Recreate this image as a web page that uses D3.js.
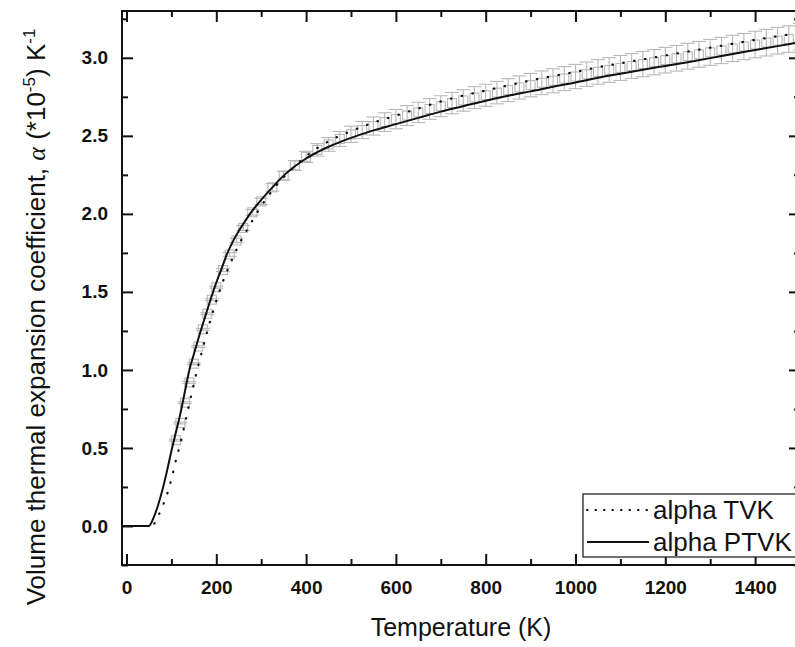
<!DOCTYPE html>
<html>
<head>
<meta charset="utf-8">
<script src="https://cdn.jsdelivr.net/npm/d3@7"></script>
<style>
  body { margin: 0; background: #fff; }
  svg { display: block; font-family: "Liberation Sans", Arial, sans-serif; }
</style>
</head>
<body>
<div id="root"></div>
<script>
// alpha PTVK (solid line)
const ptvkTemp = [-10, 0, 25, 50, 60, 70, 80, 90, 100, 110, 120, 130, 140, 150, 160, 175, 186, 200, 208, 225, 234, 250, 260, 275, 300, 325, 350, 375, 400, 425, 450, 475, 500, 550, 600, 650, 700, 750, 800, 850, 900, 950, 1000, 1050, 1100, 1150, 1200, 1250, 1300, 1350, 1400, 1450, 1500];
const ptvkAlpha = [0, 0, 0, 0, 0.05, 0.13, 0.23, 0.35, 0.48, 0.6, 0.72, 0.86, 1.0, 1.1, 1.2, 1.34, 1.44, 1.56, 1.62, 1.75, 1.806, 1.89, 1.935, 2.0, 2.09, 2.17, 2.245, 2.305, 2.355, 2.395, 2.43, 2.46, 2.487, 2.535, 2.575, 2.615, 2.655, 2.69, 2.725, 2.757, 2.785, 2.815, 2.842, 2.872, 2.898, 2.924, 2.948, 2.972, 2.998, 3.025, 3.05, 3.075, 3.1];

// alpha TVK (dotted line)
const tvkTemp = [-10, 0, 25, 50, 60, 70, 80, 90, 100, 110, 120, 130, 140, 150, 160, 170, 180, 195, 210, 225, 250, 275, 300, 325, 350, 375, 400, 450, 500, 550, 600, 650, 700, 750, 800, 850, 900, 950, 1000, 1050, 1100, 1150, 1200, 1250, 1300, 1350, 1400, 1450, 1500];
const tvkAlpha = [0, 0, 0, 0, 0.01, 0.06, 0.125, 0.2, 0.3, 0.42, 0.53, 0.655, 0.785, 0.91, 1.03, 1.14, 1.25, 1.395, 1.53, 1.64, 1.8, 1.93, 2.05, 2.15, 2.235, 2.305, 2.37, 2.465, 2.53, 2.585, 2.63, 2.675, 2.72, 2.758, 2.79, 2.823, 2.855, 2.883, 2.91, 2.94, 2.965, 2.99, 3.015, 3.04, 3.065, 3.09, 3.115, 3.138, 3.16];

// grey markers with error bars
const markTemp = [110, 120, 130, 140, 150, 160, 170, 180, 190, 200, 215, 230, 245, 260, 280, 300, 325, 350, 375, 400, 425, 450, 475, 500, 525, 550, 575, 600, 625, 650, 675, 700, 725, 750, 775, 800, 825, 850, 875, 900, 925, 950, 975, 1000, 1025, 1050, 1075, 1100, 1125, 1150, 1175, 1200, 1225, 1250, 1275, 1300, 1325, 1350, 1375, 1400, 1425, 1450, 1475, 1500];
const markAlpha = [0.55, 0.66, 0.79, 0.92, 1.04, 1.15, 1.26, 1.36, 1.45, 1.53, 1.64, 1.74, 1.83, 1.91, 2.01, 2.08, 2.17, 2.245, 2.31, 2.365, 2.41, 2.445, 2.48, 2.51, 2.537, 2.563, 2.588, 2.607, 2.63, 2.65, 2.672, 2.69, 2.71, 2.727, 2.745, 2.76, 2.777, 2.793, 2.81, 2.825, 2.84, 2.853, 2.867, 2.88, 2.895, 2.91, 2.922, 2.935, 2.947, 2.96, 2.972, 2.985, 2.997, 3.01, 3.022, 3.035, 3.047, 3.06, 3.072, 3.085, 3.097, 3.11, 3.12, 3.135];
const markErr = [0.006, 0.006, 0.006, 0.006, 0.006, 0.006, 0.006, 0.006, 0.006, 0.006, 0.01, 0.012, 0.014, 0.016, 0.018, 0.02, 0.024, 0.028, 0.032, 0.036, 0.04, 0.044, 0.048, 0.052, 0.055, 0.058, 0.06, 0.062, 0.064, 0.065, 0.066, 0.067, 0.068, 0.069, 0.07, 0.071, 0.072, 0.073, 0.074, 0.075, 0.076, 0.077, 0.077, 0.078, 0.078, 0.079, 0.079, 0.08, 0.08, 0.081, 0.081, 0.082, 0.082, 0.083, 0.083, 0.083, 0.084, 0.084, 0.084, 0.085, 0.085, 0.085, 0.085, 0.085];

const xMajor = [0, 200, 400, 600, 800, 1000, 1200, 1400];
const yMajor = [0.0, 0.5, 1.0, 1.5, 2.0, 2.5, 3.0];

const width = 795;
const height = 647;
const margin = { top: 11, right: -5, bottom: 82, left: 122 };
const innerWidth = width - margin.left - margin.right;
const innerHeight = height - margin.top - margin.bottom;

const svg = d3
  .select("#root")
  .append("svg")
  .attr("width", width)
  .attr("height", height)
  .attr("viewBox", `0 0 ${width} ${height}`);

svg.append("rect").attr("width", width).attr("height", height).attr("fill", "#fff");

const inner = svg
  .append("g")
  .attr("transform", `translate(${margin.left}, ${margin.top})`);

const xScale = d3.scaleLinear().domain([-10, 1500]).range([0, innerWidth]);
const yScale = d3.scaleLinear().domain([-0.25, 3.3]).range([innerHeight, 0]);

svg
  .append("defs")
  .append("clipPath")
  .attr("id", "plot-clip")
  .append("rect")
  .attr("width", innerWidth)
  .attr("height", innerHeight);

const plot = inner.append("g").attr("clip-path", "url(#plot-clip)");

// grey markers
const marks = markTemp.map((t, i) => ({ t, a: markAlpha[i], e: markErr[i] }));
const grey = "#b8b8b8";
const mg = plot
  .selectAll("g.mark")
  .data(marks)
  .join("g")
  .attr("class", "mark")
  .attr("transform", (d) => `translate(${xScale(d.t)}, ${yScale(d.a)})`)
  .attr("stroke", grey)
  .attr("stroke-width", 1.1)
  .attr("fill", "none");
mg.append("line")
  .attr("y1", (d) => yScale(d.a + d.e) - yScale(d.a))
  .attr("y2", (d) => yScale(d.a - d.e) - yScale(d.a));
mg.append("line")
  .attr("x1", -7).attr("x2", 7)
  .attr("y1", (d) => yScale(d.a + d.e) - yScale(d.a))
  .attr("y2", (d) => yScale(d.a + d.e) - yScale(d.a));
mg.append("line")
  .attr("x1", -7).attr("x2", 7)
  .attr("y1", (d) => yScale(d.a - d.e) - yScale(d.a))
  .attr("y2", (d) => yScale(d.a - d.e) - yScale(d.a));
mg.append("rect").attr("x", -4.5).attr("y", -4.5).attr("width", 9).attr("height", 9);

const line = d3
  .line()
  .x((d) => xScale(d[0]))
  .y((d) => yScale(d[1]))
  .curve(d3.curveMonotoneX);

plot
  .append("path")
  .datum(tvkTemp.map((t, i) => [t, tvkAlpha[i]]))
  .attr("d", line)
  .attr("fill", "none")
  .attr("stroke", "#111")
  .attr("stroke-width", 2.2)
  .attr("stroke-linecap", "round")
  .attr("stroke-dasharray", "0.5,10.5");

plot
  .append("path")
  .datum(ptvkTemp.map((t, i) => [t, ptvkAlpha[i]]))
  .attr("d", line)
  .attr("fill", "none")
  .attr("stroke", "#111")
  .attr("stroke-width", 2);

// axes, ticks pointing inward on all four sides
const xMinor = d3.range(0, 1501, 100).filter((v) => !xMajor.includes(v));
const yMinor = d3.range(-0.25, 3.3, 0.25).filter((v) => !yMajor.some((m) => Math.abs(m - v) < 1e-6));

function drawAxis(axis, transform, keepText) {
  const g = inner.append("g").attr("transform", transform).call(axis);
  g.select(".domain").remove();
  g.selectAll("line").attr("stroke", "#111").attr("stroke-width", 2);
  if (!keepText) g.selectAll("text").remove();
  return g;
}

const bottom = drawAxis(
  d3.axisBottom(xScale).tickValues(xMajor).tickSize(-11).tickPadding(16).tickFormat(d3.format("d")),
  `translate(0, ${innerHeight})`,
  true
);
drawAxis(d3.axisBottom(xScale).tickValues(xMinor).tickSize(-6), `translate(0, ${innerHeight})`);
drawAxis(d3.axisTop(xScale).tickValues(xMajor).tickSize(-11), "translate(0, 0)");
drawAxis(d3.axisTop(xScale).tickValues(xMinor).tickSize(-6), "translate(0, 0)");

const left = drawAxis(
  d3.axisLeft(yScale).tickValues(yMajor).tickSize(-11).tickPadding(14).tickFormat(d3.format(".1f")),
  "translate(0, 0)",
  true
);
drawAxis(d3.axisLeft(yScale).tickValues(yMinor).tickSize(-6), "translate(0, 0)");
drawAxis(d3.axisRight(yScale).tickValues(yMajor).tickSize(-11), `translate(${innerWidth}, 0)`);
drawAxis(d3.axisRight(yScale).tickValues(yMinor).tickSize(-6), `translate(${innerWidth}, 0)`);

[bottom, left].forEach((g) =>
  g.selectAll("text")
    .attr("fill", "#111")
    .attr("font-size", 19)
    .attr("font-weight", "bold")
    .attr("font-family", "Liberation Sans, Arial, sans-serif")
);

// frame
inner
  .append("rect")
  .attr("width", innerWidth)
  .attr("height", innerHeight)
  .attr("fill", "none")
  .attr("stroke", "#111")
  .attr("stroke-width", 2);

// axis titles
svg
  .append("text")
  .attr("x", margin.left + innerWidth / 2)
  .attr("y", 636)
  .attr("text-anchor", "middle")
  .attr("font-size", 25)
  .attr("fill", "#111")
  .text("Temperature (K)");

const yTitle = svg
  .append("text")
  .attr("transform", "translate(45, 317) rotate(-90)")
  .attr("text-anchor", "middle")
  .attr("font-size", 26)
  .attr("fill", "#111");
yTitle.append("tspan").text("Volume thermal expansion coefficient, ");
yTitle.append("tspan").attr("font-family", "Liberation Serif, serif").attr("font-style", "italic").text("α");
yTitle.append("tspan").text(" (*10");
yTitle.append("tspan").attr("font-size", 17).attr("dy", -10).text("-5");
yTitle.append("tspan").attr("dy", 10).text(") K");
yTitle.append("tspan").attr("font-size", 17).attr("dy", -10).text("-1");

// legend
const legend = svg.append("g").attr("transform", "translate(583, 494)");
legend
  .append("rect")
  .attr("width", 230)
  .attr("height", 63)
  .attr("fill", "#fff")
  .attr("stroke", "#111")
  .attr("stroke-width", 1.2);

const legendItems = [
  { label: "alpha TVK", dash: "0.5,8" },
  { label: "alpha PTVK", dash: null },
];
const li = legend
  .selectAll("g.item")
  .data(legendItems)
  .join("g")
  .attr("class", "item")
  .attr("transform", (d, i) => `translate(0, ${16 + i * 32})`);
li.append("line")
  .attr("x1", 4)
  .attr("x2", 66)
  .attr("stroke", "#111")
  .attr("stroke-width", (d) => (d.dash ? 2.2 : 2))
  .attr("stroke-linecap", (d) => (d.dash ? "round" : "butt"))
  .attr("stroke-dasharray", (d) => d.dash);
li.append("text")
  .attr("x", 70)
  .attr("y", 9)
  .attr("font-size", 26)
  .attr("fill", "#111")
  .text((d) => d.label);
</script>
</body>
</html>
